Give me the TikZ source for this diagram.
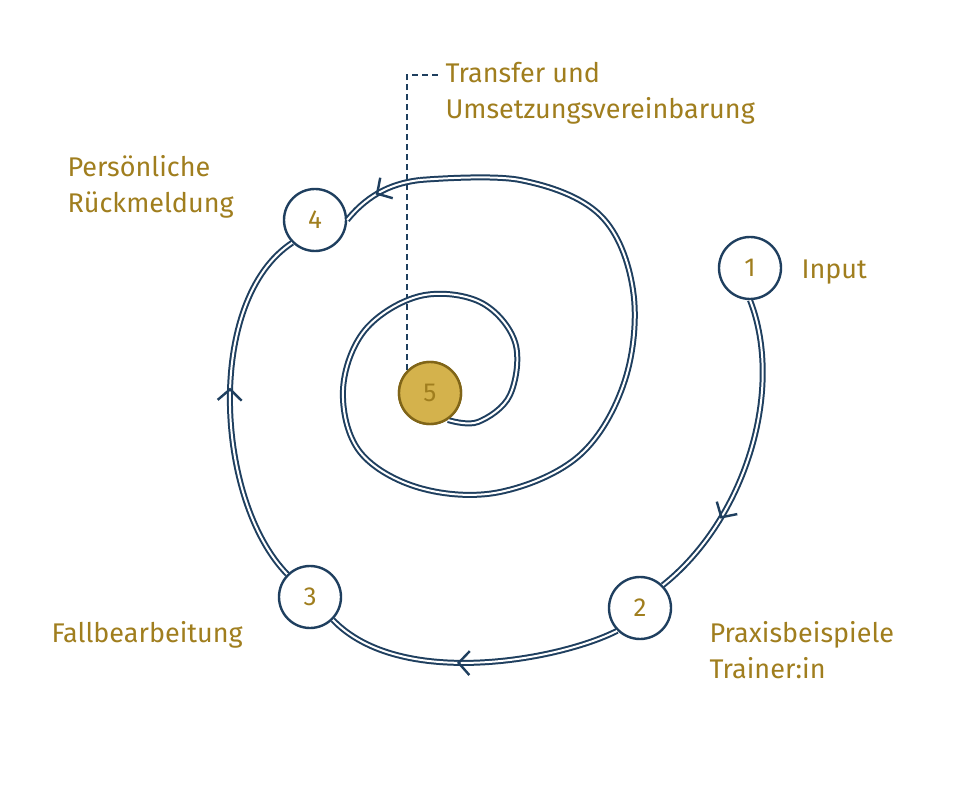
\documentclass[tikz,border=0pt]{standalone}
\usepackage{fontspec}
\setmainfont{Fira Sans}
\usetikzlibrary{arrows.meta,decorations.markings}
\definecolor{navy}{HTML}{1F3F5F}
\definecolor{gold}{HTML}{A07E1E}
\definecolor{goldfill}{HTML}{D4B24C}
\tikzset{
 stepcirc/.style={circle,draw=navy,line width=2.4pt,fill=white,minimum size=62pt,inner sep=0pt,font=\fontsize{26}{26}\selectfont\color{gold}},
 lbl/.style={font=\fontsize{27}{36}\selectfont\color{gold},align=left,anchor=west},
 spiral/.style={draw=navy,line width=2pt,double=white,double distance=2pt},
 arrmark/.style={postaction={decorate},decoration={markings,mark=at position #1 with {\arrow[navy,line width=2.4pt]{Straight Barb[length=11pt,width=24pt]}}}},
 arrmarkrev/.style={postaction={decorate},decoration={markings,mark=at position #1 with {\arrowreversed[navy,line width=2.4pt]{Straight Barb[length=11pt,width=24pt]}}}},
}
\begin{document}
\begin{tikzpicture}[x=1pt,y=-1pt]
\useasboundingbox[fill=white] (0,0) rectangle (980,791);
\coordinate (d2) at (440,75);
\coordinate (s1) at (420,180);
\node[stepcirc,fill=goldfill,draw=gold!80!black] (c5) at (430,393) {5};
\draw[navy,dash pattern=on 6pt off 4pt,line width=1.5pt] (c5.north west) |- (d2);
\node[stepcirc] (c1) at (750,268) {1};
\node[stepcirc] (c2) at (640,608) {2};
\node[stepcirc] (c3) at (310,597) {3};
\node[stepcirc] (c4) at (315,220) {4};
\path[spiral,arrmark=0.72] (c1.south) .. controls (785,390) and (745,520) .. (c2.north east);
\path[spiral,arrmark=0.55] (c2.south west) .. controls (560,660) and (400,690) .. (c3.south east);
\path[spiral,arrmark=0.55] (c3.north west) .. controls (215,500) and (205,300) .. (c4.south west);
\path[spiral,arrmarkrev=0.45] (c4.east) .. controls (370,192) and (395,183) .. (s1);
\path[spiral] plot[smooth,tension=0.6] coordinates {(s1) (520,180) (600,215) (633,290) (625,380) (580,455) (500,492) (420,488) (360,452) (343,390) (365,330) (420,296) (480,302) (515,342) (510,395) (478,422) (448,420)};
\node[stepcirc,fill=goldfill,draw=gold!80!black] at (c5) {5};
\node[lbl] (t1) at (798,272) {Input};
\node[lbl] (t2) at (706,650) {Praxisbeispiele\\Trainer:in};
\node[lbl] (t3) at (48,635) {Fallbearbeitung};
\node[lbl] (t4) at (64,187) {Persönliche\\Rückmeldung};
\node[lbl] (t5) at (442,93) {Transfer und\\Umsetzungsvereinbarung};
\end{tikzpicture}
\end{document}
